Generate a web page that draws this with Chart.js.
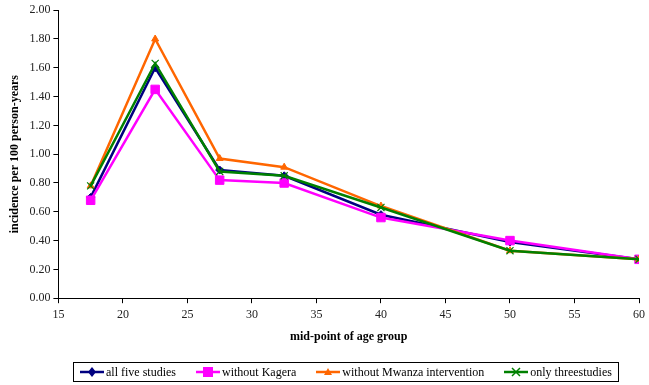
<!DOCTYPE html>
<html>
<head>
<meta charset="utf-8">
<script src="https://cdn.jsdelivr.net/npm/chart.js@4"></script>
<style>
  body { margin: 0; background: #fff; }
  #wrap { position: relative; width: 649px; height: 385px; }
  #legend {
    position: absolute; left: 73px; top: 362px; height: 20px;
    border: 1px solid #000; display: flex; align-items: center;
    font: 12px "Liberation Serif", "Times New Roman", serif; color: #000;
    padding: 0 6px; box-sizing: border-box; white-space: nowrap;
  }
  #legend .item { display: flex; align-items: center; margin-right: 20px; }
  #legend .item:last-child { margin-right: 0; }
  #legend svg { margin-right: 2px; }
</style>
</head>
<body>
<div id="wrap">
  <canvas id="incidenceChart" width="649" height="385"></canvas>
  <div id="legend"></div>
</div>
<script>
// mid-points of age groups
const agePoints = [17.5, 22.5, 27.5, 32.5, 40, 50, 60];

// incidence per 100 person-years
const allFive      = [0.70, 1.60, 0.89, 0.85, 0.58, 0.39, 0.27];
const noKagera     = [0.68, 1.45, 0.82, 0.80, 0.56, 0.40, 0.27];
const noMwanza     = [0.78, 1.80, 0.97, 0.91, 0.64, 0.33, 0.27];
const onlyThree    = [0.78, 1.63, 0.88, 0.85, 0.63, 0.33, 0.27];

const seriesNames = ['all five studies', 'without Kagera', 'without Mwanza intervention', 'only threestudies'];
const seriesData = [allFive, noKagera, noMwanza, onlyThree];
const seriesColors = ['#000080', '#FF00FF', '#FF6600', '#008000'];
const seriesMarkers = ['rectRot', 'rect', 'triangle', 'crossRot'];
const markerSizes = [4, 6, 4, 5];

const fontFamily = '"Liberation Serif", "Times New Roman", serif';

function toXY(values) {
    return values.map((v, i) => ({ x: agePoints[i], y: v }));
}

const datasets = seriesData.map((values, i) => ({
    label: seriesNames[i],
    data: toXY(values),
    borderColor: seriesColors[i],
    backgroundColor: seriesColors[i],
    borderWidth: 2.5,
    pointStyle: seriesMarkers[i],
    pointRadius: markerSizes[i],
    pointBorderWidth: i === 3 ? 1.2 : 1,
    pointHoverRadius: markerSizes[i],
    tension: 0,
    order: 4 - i // last series on top, like the original
}));

const ctx = document.getElementById('incidenceChart').getContext('2d');
new Chart(ctx, {
    type: 'line',
    data: { datasets: datasets },
    options: {
        responsive: false,
        animation: false,
        layout: { padding: { top: 10, right: -3, bottom: 37, left: 4 } },
        plugins: {
            legend: { display: false },
            tooltip: { enabled: false }
        },
        scales: {
            x: {
                type: 'linear',
                min: 15,
                max: 60,
                ticks: { stepSize: 5, color: '#222', font: { family: fontFamily, size: 12 }, padding: 4 },
                grid: { drawOnChartArea: false, color: '#000', tickLength: 5 },
                border: { color: '#000', width: 1 },
                title: { display: true, text: 'mid-point of age group', color: '#000',
                         font: { family: fontFamily, size: 12, weight: 'bold' }, padding: { top: 4 } }
            },
            y: {
                min: 0,
                max: 2,
                ticks: { stepSize: 0.2, color: '#222', font: { family: fontFamily, size: 12 },
                         callback: v => v.toFixed(2), padding: 3 },
                grid: { drawOnChartArea: false, color: '#000', tickLength: 5 },
                border: { color: '#000', width: 1 },
                title: { display: true, text: 'incidence per 100 person-years', color: '#000',
                         font: { family: fontFamily, size: 12, weight: 'bold' }, padding: { bottom: 4 } }
            }
        }
    }
});

// legend drawn as HTML: a short line with the series marker, then the name
function markerSvg(i) {
    const c = seriesColors[i];
    let m = '';
    if (i === 0) m = `<polygon points="12,2 16,7 12,12 8,7" fill="${c}"/>`;
    if (i === 1) m = `<rect x="7" y="2" width="10" height="10" fill="${c}"/>`;
    if (i === 2) m = `<polygon points="12,3 16,10 8,10" fill="${c}"/>`;
    if (i === 3) m = `<path d="M8,3 L16,11 M16,3 L8,11" stroke="${c}" stroke-width="1.5"/>`;
    return `<svg width="24" height="14"><line x1="0" y1="7" x2="24" y2="7" stroke="${c}" stroke-width="2.5"/>${m}</svg>`;
}
const legendEl = document.getElementById('legend');
legendEl.innerHTML = seriesNames.map((name, i) =>
    `<div class="item">${markerSvg(i)}<span>${name}</span></div>`).join('');
</script>
</body>
</html>
